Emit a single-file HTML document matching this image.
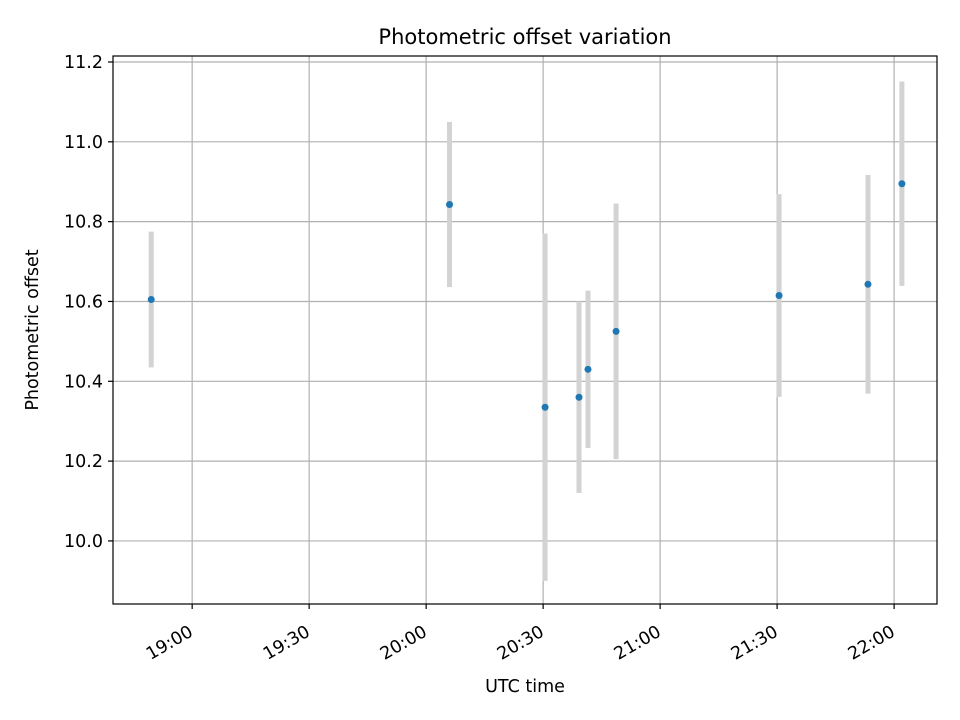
<!DOCTYPE html>
<html><head><meta charset="utf-8"><style>body{margin:0;background:#fff}svg{display:block;font-family:"DejaVu Sans","Liberation Sans",sans-serif}</style></head>
<body>
<svg id="chart" width="960" height="720" viewBox="0 0 960 720"></svg>
<script>
const times=["18:49.5","20:06","20:30.5","20:39.2","20:41.5","20:48.7","21:30.5","21:53.3","22:02"];
const values=[10.605,10.843,10.335,10.36,10.43,10.525,10.615,10.643,10.895];
const errors=[0.17,0.207,0.435,0.24,0.197,0.32,0.254,0.274,0.256];
const yTicks=[10.0,10.2,10.4,10.6,10.8,11.0,11.2];
const xTicks=["19:00","19:30","20:00","20:30","21:00","21:30","22:00"];
const L=113,R=937,T=56,B=604;
function toMin(s){const[h,m]=s.split(":");return +h*60+parseFloat(m);}
const xmin=toMin("18:39.7"),xmax=toMin("22:11");
const ymin=9.842,ymax=11.215;
const X=t=>L+(toMin(t)-xmin)/(xmax-xmin)*(R-L);
const Y=v=>B-(v-ymin)/(ymax-ymin)*(B-T);
const svg=document.getElementById('chart');const NS="http://www.w3.org/2000/svg";
function el(tag,a,p){const e=document.createElementNS(NS,tag);for(const k in a)e.setAttribute(k,a[k]);(p||svg).appendChild(e);return e;}
const grid=el('g',{});
yTicks.forEach(v=>{const y=Y(v);el('line',{x1:L,x2:R,y1:y,y2:y,stroke:'#b0b0b0','stroke-width':1.2},grid);
el('line',{x1:L-5,x2:L,y1:y,y2:y,stroke:'#000','stroke-width':1.2});
const t=el('text',{x:L-10,y:y+6,'text-anchor':'end','font-size':17.5});t.textContent=v.toFixed(1);
});
xTicks.forEach(s=>{const x=X(s);el('line',{x1:x,x2:x,y1:T,y2:B,stroke:'#b0b0b0','stroke-width':1.2},grid);
el('line',{x1:x,x2:x,y1:B,y2:B+5,stroke:'#000','stroke-width':1.2});
const ax=x+2,ay=B+31;
const t=el('text',{x:ax,y:ay,'text-anchor':'end','font-size':17.5,transform:`rotate(-30 ${ax} ${ay})`});t.textContent=s;
});
times.forEach((s,i)=>{const x=X(s);
const eb=el('line',{x1:x,x2:x,y1:Y(values[i]-errors[i]),y2:Y(values[i]+errors[i]),stroke:'#d3d3d3','stroke-width':5});
});
times.forEach((s,i)=>{const p=el('circle',{cx:X(s),cy:Y(values[i]),r:3.5,fill:'#1f77b4'});
});
const f=el('rect',{x:L,y:T,width:R-L,height:B-T,fill:'none',stroke:'#000','stroke-width':1.2});

let t=el('text',{x:525,y:44,'text-anchor':'middle','font-size':21});t.textContent="Photometric offset variation";

t=el('text',{x:525,y:692,'text-anchor':'middle','font-size':17.5});t.textContent="UTC time";

t=el('text',{x:38,y:330,'text-anchor':'middle','font-size':17.5,transform:'rotate(-90 38 330)'});t.textContent="Photometric offset";

</script>
</body></html>
